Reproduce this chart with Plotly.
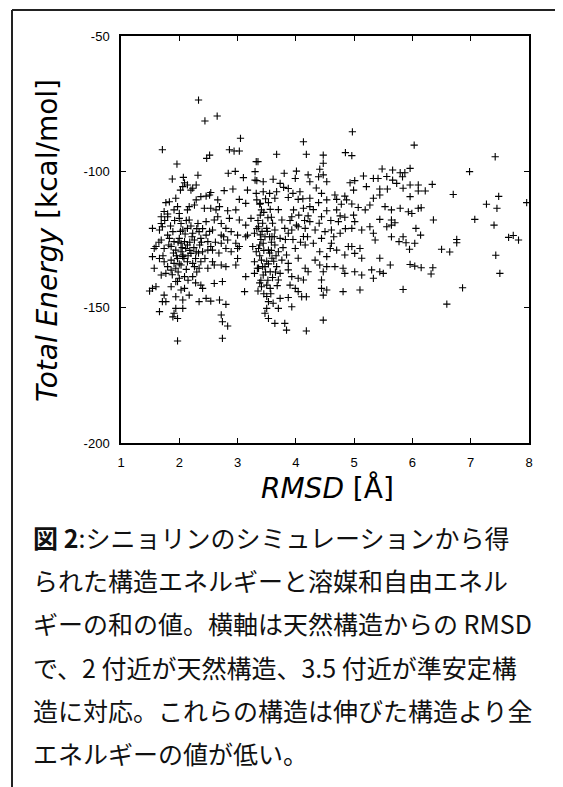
import plotly.graph_objects as go

# ---- data (RMSD [Å], Total Energy [kcal/mol]) ----
# upper-left region
rmsd_a = [2.33, 2.44, 2.65, 3.05, 1.71, 2.86, 2.94, 3.03, 2.52, 2.47, 1.96, 3.32, 2.84, 2.96, 2.32, 1.88, 2.07, 3.10, 3.30, 3.30,
          2.09, 2.06, 2.14, 2.23, 2.20, 2.29, 2.02, 2.92, 2.77, 3.17, 2.37, 2.46, 2.52, 2.54, 2.66, 3.03, 3.14, 1.94, 1.77, 1.83,
          2.29, 2.26, 2.17, 1.97, 1.91, 2.43, 2.54, 2.63, 2.69, 2.83, 2.97, 1.74, 2.00, 2.14, 1.80, 3.33]
energy_a = [-73.6, -81.3, -79.5, -87.7, -91.9, -91.9, -92.4, -92.4, -93.9, -95.1, -97.2, -96.3, -100.6, -99.9, -101.3, -102.7, -102.1, -102.2, -100.0, -103.1,
            -104.1, -105.5, -104.9, -106.1, -106.8, -104.9, -106.8, -106.4, -107.0, -106.8, -109.2, -109.0, -108.6, -107.7, -110.4, -110.2, -111.7, -109.8, -111.4, -111.1,
            -110.4, -112.3, -112.9, -112.9, -114.1, -113.5, -113.5, -114.1, -112.9, -114.4, -114.1, -114.7, -115.4, -114.1, -115.6, -110.4]

# lower-left region (native-like cluster near 2 Å)
rmsd_b = [1.69, 1.80, 2.00, 2.17, 2.32, 2.46, 2.60, 2.66, 2.72, 2.86, 3.03, 3.23, 3.14, 2.03, 1.69,
          1.54, 1.66, 1.71, 1.89, 2.06, 2.23, 2.34, 2.46, 2.57, 2.72, 2.80, 2.89, 3.00, 3.17, 3.29, 1.80, 2.14,
          1.69, 1.83, 1.91, 2.00, 2.09, 2.14, 2.26, 2.37, 2.49, 2.72, 2.83, 2.97, 3.03, 3.14, 1.60, 2.03,
          1.57, 1.74, 1.86, 1.94, 2.03, 2.11, 2.20, 2.29, 2.40, 2.49, 2.57, 2.80, 2.89, 3.00, 3.26, 3.32, 2.54, 2.06,
          1.54, 1.66, 1.74, 1.86, 1.97, 2.06, 2.14, 2.23, 2.37, 2.57, 2.72, 2.80, 2.97, 3.00, 3.29, 3.34, 2.03, 1.91,
          1.57, 1.69, 1.77, 1.86, 1.94, 2.00, 2.09, 2.23, 2.34, 2.49, 2.60, 3.14, 3.29, 1.97,
          1.49, 1.54, 1.60, 1.74, 1.86, 1.94, 2.03, 2.09, 2.17, 2.37, 2.40, 2.60, 2.74, 3.12,
          1.71, 1.77, 1.94, 2.06, 2.34, 2.46, 2.54, 2.69, 2.80, 1.94, 2.06, 1.66,
          1.91, 1.89, 1.97, 2.72, 2.74, 2.83, 2.74, 1.97,
          2.10, 2.18, 2.25, 2.05, 1.95, 2.15, 2.28, 2.35, 1.98, 2.20, 2.40, 2.12, 1.88, 2.30,
          1.75, 1.85, 1.92, 2.02, 2.12, 2.22, 2.30, 2.38, 1.82, 1.90, 2.00, 2.08, 2.18, 2.26, 2.33,
          1.72, 1.80, 1.98, 2.15, 2.28, 1.65, 2.44, 2.52, 2.62, 2.68, 2.76]
energy_b = [-116.6, -116.6, -117.2, -117.8, -119.1, -118.4, -117.8, -116.6, -119.1, -117.2, -117.8, -117.2, -119.7, -119.1, -119.1,
            -120.9, -121.5, -120.3, -122.1, -121.5, -122.7, -122.1, -123.4, -121.5, -123.4, -120.9, -122.1, -123.4, -123.4, -122.7, -123.4, -120.9,
            -125.2, -124.6, -125.8, -124.6, -125.8, -127.0, -125.2, -124.6, -125.8, -126.4, -125.2, -126.4, -127.6, -124.0, -127.6, -126.4,
            -128.3, -128.3, -127.6, -128.9, -129.5, -128.3, -130.1, -129.5, -129.5, -128.9, -128.9, -128.3, -129.5, -128.3, -127.6, -129.5, -127.6, -130.7,
            -131.3, -132.0, -133.2, -132.6, -132.0, -131.3, -133.2, -133.8, -133.2, -133.2, -134.4, -135.0, -134.4, -132.0, -133.2, -135.6, -134.4, -133.8,
            -135.6, -138.1, -137.5, -136.3, -135.6, -139.3, -138.7, -138.7, -135.6, -135.6, -134.4, -138.7, -137.5, -140.5,
            -144.0, -143.0, -142.4, -145.5, -142.4, -140.5, -143.6, -143.0, -145.5, -141.8, -143.0, -141.2, -140.5, -144.2,
            -147.9, -147.9, -146.1, -147.3, -147.9, -146.7, -147.7, -147.3, -148.9, -150.4, -150.4, -151.6,
            -152.2, -153.5, -154.1, -152.8, -155.3, -156.9, -161.4, -162.4,
            -123.0, -126.0, -128.0, -128.0, -131.0, -131.0, -132.0, -127.0, -126.0, -120.0, -121.0, -136.0, -138.0, -137.0,
            -118.0, -120.0, -118.0, -122.0, -118.0, -124.0, -121.0, -126.0, -127.0, -130.0, -134.0, -132.0, -129.0, -135.0, -130.0,
            -131.0, -135.0, -137.0, -140.0, -141.0, -126.0, -132.0, -122.0, -126.0, -130.0, -124.0]

# upper-middle region
rmsd_c = [4.97, 4.13, 3.67, 4.18, 4.47, 4.85, 4.96, 3.35, 4.47, 4.41, 4.47, 4.01, 3.99, 3.80, 4.21, 4.39, 4.53, 4.24, 3.61, 3.44,
          3.33, 3.73, 3.87, 3.79, 3.67, 3.44, 4.93, 5.01, 4.99, 5.16, 5.33, 5.41, 5.48, 5.56, 5.21, 5.44, 5.57, 5.44, 4.07, 4.44,
          4.67, 4.84, 3.64, 3.87, 4.04, 4.24, 3.39, 3.53, 4.39, 4.53, 4.70, 4.87, 4.96, 5.33, 5.27, 5.19, 5.07, 5.53, 3.41, 3.56,
          3.96, 4.13, 4.24, 4.53, 4.70, 3.39, 3.58, 3.76, 3.93, 4.21, 4.44, 4.76, 4.84, 4.99, 5.01, 5.44, 4.01, 4.24, 4.73, 5.27]
energy_c = [-85.3, -89.0, -93.6, -93.6, -93.9, -93.0, -94.1, -96.3, -96.9, -99.1, -101.2, -99.8, -102.5, -100.6, -101.2, -101.9, -103.7, -103.7, -102.8, -103.7,
            -103.3, -104.3, -106.2, -105.8, -107.4, -107.4, -104.1, -103.3, -106.8, -101.6, -102.5, -102.5, -99.0, -101.8, -105.5, -106.4, -106.4, -108.6, -107.4, -108.0,
            -108.6, -109.0, -109.8, -109.5, -110.2, -109.8, -111.7, -111.4, -111.4, -110.4, -110.2, -110.4, -111.9, -109.8, -112.3, -114.1, -113.2, -112.9, -114.1, -113.9,
            -114.1, -113.5, -112.9, -114.4, -114.1, -116.0, -116.8, -117.8, -116.6, -116.3, -116.6, -116.3, -116.8, -116.0, -118.4, -117.6, -119.7, -118.4, -118.4, -120.3]

# lower-middle region (meta-stable cluster near 3.5 Å)
rmsd_d = [3.36, 3.50, 3.64, 3.81, 3.93, 4.04, 4.16, 4.33, 4.50, 4.61, 4.76, 4.96, 5.13, 5.33, 5.36, 5.56, 3.39, 3.59, 3.73, 3.87, 4.13, 4.44, 4.61,
          3.36, 3.44, 3.53, 3.64, 3.70, 3.84, 3.99, 4.04, 4.16, 4.30, 4.41, 4.53, 4.59, 4.70, 4.84, 4.90, 4.96, 5.01, 5.10, 5.13, 5.44, 3.41, 3.59, 3.76, 3.87,
          3.36, 3.47, 3.56, 3.67, 3.73, 3.87, 4.16, 4.21, 4.33, 4.41, 4.47, 4.53, 4.67, 4.81, 4.84, 5.01, 5.13, 5.30, 5.44, 5.50, 5.33, 3.44, 3.70, 3.93, 4.04, 4.13, 4.44,
          3.41, 3.50, 3.56, 3.90, 3.99, 4.04, 4.10, 4.18, 4.44, 4.53, 4.47, 4.81, 5.10, 3.73, 3.87, 3.53, 3.61,
          3.50, 3.70, 3.93, 3.47, 3.53, 3.64, 3.81, 3.84, 4.18, 4.47,
          3.40, 3.45, 3.38, 3.50, 3.55, 3.48, 3.40, 3.52, 3.58, 3.62, 3.35, 3.45, 3.57, 3.60, 3.42, 3.55, 3.66,
          3.35, 3.45, 3.52, 3.60, 3.70, 3.38, 3.48, 3.55, 3.32,
          3.33, 3.43, 3.51, 3.63, 3.38, 3.47, 3.58, 3.43, 3.53, 3.65, 3.38, 3.50, 3.68, 3.78, 3.82,
          3.95, 4.08, 3.90, 4.05, 4.15, 4.30, 4.12, 3.95, 4.35, 4.60, 4.65, 4.85, 4.78, 4.40, 4.20]
energy_d = [-120.3, -120.9, -121.5, -120.9, -121.5, -120.3, -120.9, -121.5, -122.1, -121.5, -122.7, -120.9, -121.5, -122.7, -125.2, -120.3, -123.3, -123.9, -124.6, -122.7, -123.9, -124.6, -126.4,
            -128.3, -126.4, -128.9, -127.0, -129.5, -130.7, -128.3, -131.9, -127.0, -126.4, -129.5, -131.3, -128.3, -128.9, -130.7, -127.6, -127.6, -130.1, -128.3, -131.9, -131.9, -132.6, -131.9, -132.6, -133.8,
            -135.6, -135.0, -136.9, -135.0, -137.5, -136.2, -135.6, -136.9, -132.6, -134.4, -136.9, -135.0, -135.0, -135.6, -137.5, -136.9, -138.1, -136.2, -136.9, -137.5, -139.3, -138.1, -139.9, -138.7, -139.3, -139.9, -139.9,
            -142.4, -141.8, -143.0, -141.8, -143.0, -144.2, -146.1, -146.1, -143.0, -143.6, -145.5, -144.2, -143.6, -146.7, -146.4, -147.9, -148.5,
            -150.4, -150.4, -149.8, -152.2, -154.1, -155.9, -155.9, -158.4, -158.7, -154.7,
            -125.0, -129.0, -131.0, -133.0, -130.0, -137.0, -140.0, -140.0, -126.0, -133.0, -144.0, -145.0, -145.0, -139.0, -122.0, -124.0, -131.0,
            -118.0, -115.0, -117.0, -119.0, -114.0, -112.0, -110.0, -108.0, -108.0,
            -121.0, -119.0, -122.0, -124.0, -127.0, -124.0, -129.0, -135.0, -134.0, -137.0, -141.0, -146.0, -142.0, -128.0, -125.0,
            -125.0, -126.0, -118.0, -116.0, -118.0, -114.0, -110.0, -108.0, -106.0, -118.0, -124.0, -121.0, -112.0, -119.0, -124.0]

# right region (extended structures)
rmsd_e = [6.03, 7.42, 6.98, 7.96, 6.70, 7.48, 7.27, 7.45, 6.36, 7.07, 7.40, 7.65, 7.73, 7.82, 6.76, 6.76, 6.50, 6.64, 7.43, 7.50, 6.86, 6.59, 5.84,
          5.66, 5.79, 5.87, 5.96, 5.83, 5.66, 5.73, 5.84, 5.96, 6.10, 6.34, 6.10, 6.22, 5.96,
          5.64, 5.79, 5.93, 5.99, 6.10, 6.15,
          5.64, 5.70, 5.64, 6.06, 6.14, 5.84, 5.77, 5.89, 6.04, 5.95, 5.64,
          5.96, 6.04, 6.15, 6.35, 6.32, 5.62]
energy_e = [-90.2, -94.5, -100.0, -111.4, -108.4, -109.1, -112.0, -113.5, -117.8, -117.6, -119.7, -124.2, -123.5, -125.2, -125.0, -126.2, -128.6, -129.6, -130.8, -137.5, -142.8, -148.8, -143.4,
            -99.4, -100.4, -100.4, -98.8, -101.9, -103.1, -104.3, -106.1, -104.9, -104.9, -104.7, -107.1, -107.1, -109.2,
            -114.1, -113.5, -114.8, -115.4, -113.5, -113.3,
            -117.8, -118.8, -119.7, -120.9, -123.4, -124.0, -125.8, -126.2, -126.4, -128.6, -124.0,
            -134.2, -134.8, -135.4, -135.4, -137.7, -134.4]

rmsd = rmsd_a + rmsd_b + rmsd_c + rmsd_d + rmsd_e
energy = energy_a + energy_b + energy_c + energy_d + energy_e

x_ticks = [1, 2, 3, 4, 5, 6, 7, 8]
x_tick_labels = ["1", "2", "3", "4", "5", "6", "7", "8"]
y_ticks = [-200, -150, -100, -50]
y_tick_labels = ["-200", "-150", "-100", "-50"]

caption_lines = [
    "<b>図 2</b>:シニョリンのシミュレーションから得",
    "られた構造エネルギーと溶媒和自由エネル",
    "ギーの和の値。横軸は天然構造からの RMSD",
    "で、2 付近が天然構造、3.5 付近が準安定構",
    "造に対応。これらの構造は伸びた構造より全",
    "エネルギーの値が低い。",
]

# ---- figure geometry (pixels in the page; the page body has an 8px margin) ----
OFF = 8
W, H = 563 - OFF, 787 - OFF
L, R, T, B = 121 - OFF, 529 - OFF, 36 - OFF, 443 - OFF
pw, ph = R - L, B - T


def px(xp):
    return (xp - OFF - L) / pw


def py(yp):
    return (B - (yp - OFF)) / ph


fig = go.Figure()
fig.add_trace(go.Scatter(
    x=rmsd, y=energy, mode="markers",
    marker=dict(symbol="cross-thin", size=5.2, color="black",
                line=dict(color="black", width=1.1)),
    cliponaxis=False, showlegend=False, hoverinfo="skip",
))

axis_common = dict(
    showline=True, linecolor="black", linewidth=1.5, mirror="ticks",
    ticks="inside", ticklen=5, tickwidth=1.2, tickcolor="black",
    showgrid=False, zeroline=False,
    tickfont=dict(family="Liberation Sans Narrow, Liberation Sans, Arial", size=13, color="black"),
    ticklabelstandoff=7,
)

fig.update_xaxes(range=[1, 8], tickvals=x_ticks, ticktext=x_tick_labels, **axis_common)
fig.update_yaxes(range=[-200, -50], tickvals=y_ticks, ticktext=y_tick_labels, **axis_common)

annotations = [
    dict(text="<i>Total Energy</i> [kcal/mol]", x=px(47), y=py(241), xref="paper", yref="paper",
         textangle=-90, showarrow=False, xanchor="center", yanchor="middle",
         font=dict(family="DejaVu Sans", size=28, color="black")),
    dict(text="<i>RMSD</i> [Å]", x=px(327), y=py(488), xref="paper", yref="paper",
         showarrow=False, xanchor="center", yanchor="middle",
         font=dict(family="DejaVu Sans", size=28, color="black")),
]
line_y = [537, 580, 623, 667, 710, 753]
for txt, yy in zip(caption_lines, line_y):
    annotations.append(dict(
        text=txt, x=px(31), y=py(yy), xref="paper", yref="paper",
        showarrow=False, xanchor="left", yanchor="middle", align="left",
        font=dict(family="Noto Sans CJK JP", size=25, color="#111"),
    ))

shapes = [
    dict(type="line", xref="paper", yref="paper", x0=px(12), x1=px(563), y0=py(10), y1=py(10),
         line=dict(color="#222", width=2)),
    dict(type="line", xref="paper", yref="paper", x0=px(12), x1=px(12), y0=py(10), y1=py(787),
         line=dict(color="#222", width=2)),
]

fig.update_layout(
    width=W, height=H,
    margin=dict(l=L, r=W - R, t=T, b=H - B, pad=0),
    paper_bgcolor="white", plot_bgcolor="white",
    annotations=annotations, shapes=shapes,
    showlegend=False,
)

fig.write_html("out.html")
